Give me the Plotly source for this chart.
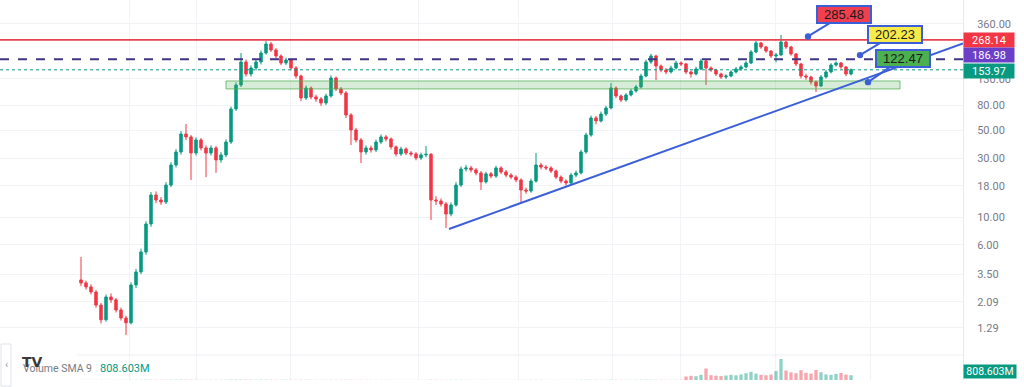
import math
import plotly.graph_objects as go

# ---------------- data ----------------
opens = [
    3.14, 2.97, 2.76, 2.51, 1.97, 1.50, 2.29, 2.17, 1.80, 1.55,
    1.42, 2.86, 3.64, 5.27, 8.85, 15.15, 13.8, 13.3, 18.2, 26.4,
    33.6, 46.9, 44.4, 33.0, 42.0, 36.2, 33.0, 36.2, 29.0, 31.8,
    40.4, 74.5, 116.2, 178.0, 142.5, 159.3, 178.0, 210.2, 248.5, 222.3,
    198.9, 174.7, 184.7, 159.3, 137.3, 91.4, 109.9, 93.1, 89.7, 83.3,
    94.8, 132.3, 107.9, 100.2, 66.7, 50.5, 42.0, 33.6, 36.2, 34.9,
    40.4, 44.4, 42.7, 36.9, 32.4, 35.5, 33.0, 32.4, 30.1, 31.8,
    32.2, 13.8, 13.56, 12.82, 10.65, 12.59, 18.2, 24.5, 25.0, 24.1,
    22.8, 19.3, 22.4, 21.5, 25.0, 23.2, 21.9, 21.1, 20.0, 16.6,
    16.3, 19.6, 26.4, 25.4, 25.0, 23.6, 21.1, 19.6, 18.9, 21.9,
    22.8, 33.6, 46.0, 63.1, 59.7, 67.9, 75.9, 109.9, 94.8, 88.0,
    96.6, 104.0, 112.0, 137.3, 178.0, 198.9, 165.2, 153.5, 147.9, 159.3,
    174.7, 171.5, 147.9, 142.5, 156.3, 181.3, 159.3, 153.5, 142.5, 134.8,
    137.3, 147.9, 156.3, 162.3, 174.7, 214.2, 253.1, 235.0, 218.2, 198.9,
    202.6, 257.8, 235.0, 206.5, 171.5, 137.3, 134.8, 122.9, 114.1, 134.8,
    147.9, 168.4, 174.7, 162.3, 142.5,
]
highs = [
    4.80, 3.10, 2.90, 2.60, 2.05, 2.40, 2.45, 2.25, 1.88, 1.62,
    3.00, 3.85, 5.60, 9.30, 16.0, 16.2, 14.6, 19.2, 27.8, 35.4,
    49.5, 56.4, 46.0, 44.0, 43.5, 38.0, 38.0, 37.5, 33.5, 42.5,
    78.0, 122.0, 210.2, 186.0, 167.0, 187.0, 220.0, 262.6, 258.0, 230.0,
    205.0, 193.0, 190.0, 165.0, 141.0, 115.0, 113.0, 97.0, 93.0, 99.0,
    139.0, 136.0, 112.0, 104.0, 69.0, 52.5, 43.5, 38.0, 37.8, 42.3,
    46.5, 46.0, 44.0, 38.0, 37.0, 36.6, 34.2, 33.5, 33.2, 37.5,
    33.0, 14.8, 14.2, 13.3, 13.2, 19.2, 25.7, 26.5, 26.0, 25.0,
    23.6, 23.3, 23.2, 26.0, 25.8, 24.0, 22.7, 21.8, 20.6, 17.4,
    20.5, 33.0, 27.5, 26.3, 25.8, 24.3, 21.8, 20.3, 22.8, 23.8,
    35.0, 48.0, 66.0, 65.5, 71.0, 79.0, 120.6, 113.0, 97.5, 100.0,
    108.0, 116.5, 143.0, 186.0, 207.0, 203.0, 170.0, 159.0, 166.0, 182.0,
    180.0, 175.0, 152.0, 163.0, 189.0, 185.0, 164.0, 157.0, 146.0, 142.0,
    153.0, 162.0, 168.0, 181.0, 222.0, 262.6, 258.0, 240.0, 222.0, 210.0,
    293.5, 262.0, 240.0, 210.0, 175.0, 143.0, 138.0, 126.0, 140.0, 153.0,
    174.0, 180.0, 178.0, 165.0, 158.0,
]
lows = [
    2.80, 2.62, 2.40, 1.88, 1.40, 1.45, 2.05, 1.72, 1.48, 1.13,
    1.38, 2.70, 3.50, 5.00, 8.40, 13.0, 12.6, 12.8, 17.5, 25.2,
    32.0, 42.0, 20.0, 31.5, 34.5, 21.1, 31.5, 22.8, 27.5, 30.5,
    39.0, 72.0, 112.0, 136.0, 136.0, 152.0, 170.0, 204.0, 214.0, 190.0,
    168.0, 168.0, 152.0, 131.0, 86.0, 88.0, 89.0, 85.0, 79.0, 80.0,
    92.0, 104.0, 96.0, 63.0, 38.2, 40.0, 27.4, 32.0, 33.2, 33.5,
    39.0, 40.8, 35.2, 31.0, 31.2, 31.7, 31.0, 28.8, 29.0, 30.5,
    9.53, 12.6, 12.2, 8.22, 10.2, 12.2, 17.6, 23.4, 23.0, 21.8,
    16.6, 18.7, 20.6, 20.8, 22.3, 21.0, 20.3, 19.2, 13.3, 15.5,
    15.8, 19.0, 24.3, 24.0, 22.7, 20.3, 18.8, 18.0, 18.4, 21.0,
    22.2, 32.5, 44.5, 56.0, 58.0, 65.5, 74.0, 91.0, 84.5, 85.5,
    94.0, 101.0, 109.0, 134.0, 172.0, 127.5, 147.0, 142.0, 144.0, 155.0,
    165.0, 142.0, 133.0, 139.0, 153.0, 116.2, 148.0, 137.0, 130.0, 130.0,
    134.0, 144.0, 151.0, 158.0, 171.0, 209.0, 227.0, 211.0, 192.0, 177.0,
    198.0, 227.0, 200.0, 165.0, 131.0, 128.0, 117.0, 102.1, 112.0, 131.0,
    144.0, 163.0, 157.0, 137.0, 139.0,
]
closes = [
    2.97, 2.76, 2.51, 1.97, 1.50, 2.29, 2.17, 1.80, 1.55, 1.42,
    2.86, 3.64, 5.27, 8.85, 15.15, 13.8, 13.3, 18.2, 26.4, 33.6,
    46.9, 44.4, 33.0, 42.0, 36.2, 33.0, 36.2, 29.0, 31.8, 40.4,
    74.5, 116.2, 178.0, 142.5, 159.3, 178.0, 210.2, 248.5, 222.3, 198.9,
    174.7, 184.7, 159.3, 137.3, 91.4, 109.9, 93.1, 89.7, 83.3, 94.8,
    132.3, 107.9, 100.2, 66.7, 50.5, 42.0, 33.6, 36.2, 34.9, 40.4,
    44.4, 42.7, 36.9, 32.4, 35.5, 33.0, 32.4, 30.1, 31.8, 32.2,
    13.8, 13.56, 12.82, 10.65, 12.59, 18.2, 24.5, 25.0, 24.1, 22.8,
    19.3, 22.4, 21.5, 25.0, 23.2, 21.9, 21.1, 20.0, 16.6, 16.3,
    19.6, 26.4, 25.4, 25.0, 23.6, 21.1, 19.6, 18.9, 21.9, 22.8,
    33.6, 46.0, 63.1, 59.7, 67.9, 75.9, 109.9, 94.8, 88.0, 96.6,
    104.0, 112.0, 137.3, 178.0, 198.9, 165.2, 153.5, 147.9, 159.3, 174.7,
    171.5, 147.9, 142.5, 156.3, 181.3, 159.3, 153.5, 142.5, 134.8, 137.3,
    147.9, 156.3, 162.3, 174.7, 214.2, 253.1, 235.0, 218.2, 198.9, 202.6,
    257.8, 235.0, 206.5, 171.5, 137.3, 134.8, 122.9, 114.1, 134.8, 147.9,
    168.4, 174.7, 162.3, 142.5, 153.97,
]
volume_m = [
    12, 9, 8, 11, 14, 10, 7, 9, 8, 13,
    18, 15, 20, 24, 30, 22, 18, 21, 26, 28,
    30, 25, 27, 20, 18, 17, 16, 15, 14, 19,
    32, 35, 40, 30, 26, 24, 28, 33, 27, 22,
    20, 21, 19, 18, 25, 22, 17, 15, 14, 16,
    23, 19, 15, 20, 24, 18, 21, 14, 12, 13,
    12, 11, 13, 10, 11, 10, 9, 10, 11, 12,
    30, 22, 18, 20, 16, 21, 19, 14, 12, 11,
    13, 10, 9, 11, 10, 9, 8, 9, 12, 11,
    14, 18, 13, 11, 10, 9, 10, 9, 11, 12,
    16, 20, 22, 19, 18, 17, 25, 20, 17, 16,
    15, 17, 21, 26, 24, 22, 18, 17, 16, 18,
    19, 350, 420, 380, 520, 1150, 480, 430, 390, 450,
    520, 470, 560, 680, 820, 640, 520, 470, 540, 900,
    2100, 950, 760, 680, 980, 720, 640, 1000, 780, 560,
    520, 610, 700, 540, 480,
]

tick_vals = [1.29, 2.09, 3.5, 6, 10, 18, 30, 50, 80, 130, 360]
tick_text = ["1.29", "2.09", "3.50", "6.00", "10.00", "18.00", "30.00",
             "50.00", "80.00", "130.00", "360.00"]

resistance = 268.14
mid_level = 186.98
last_price = 153.97
volume_sma = "808.603M"

# drawings (bar index, price)
trend_x = [73.6, 176.4]
trend_y = [8.07, 251.2]
zone_x = [29.0, 163.8]
zone_y = [108.0, 125.2]
callouts = [
    ("285.48", 145.4, 285.48, "#f0404f", 36, -22),
    ("202.23", 155.8, 202.23, "#f7ea4a", 35, -21),
    ("122.47", 157.4, 122.47, "#4caf50", 35, -24),
]
time_grid = [9.6, 23.0, 41.8, 67.4, 87.4, 106.2, 119.8, 138.8, 157.8]

# ---------------- figure ----------------
UP, DOWN = "#089981", "#f23645"
idx = list(range(len(closes)))
X_RANGE = [-16.2, 176.4]

fig = go.Figure()

# zone
fig.add_trace(go.Scatter(
    x=[zone_x[0], zone_x[1], zone_x[1], zone_x[0], zone_x[0]],
    y=[zone_y[0], zone_y[0], zone_y[1], zone_y[1], zone_y[0]],
    mode="lines", fill="toself", fillcolor="rgba(76,175,80,0.22)",
    line=dict(color="rgba(76,175,80,0.75)", width=1),
    hoverinfo="skip", showlegend=False, yaxis="y"))

# horizontal levels
fig.add_trace(go.Scatter(x=X_RANGE, y=[resistance, resistance], mode="lines",
                         line=dict(color="#e8414f", width=1.6),
                         hoverinfo="skip", showlegend=False))
fig.add_trace(go.Scatter(x=X_RANGE, y=[mid_level, mid_level], mode="lines",
                         line=dict(color="#3e3585", width=2, dash="9px,9px"),
                         hoverinfo="skip", showlegend=False))
fig.add_trace(go.Scatter(x=X_RANGE, y=[last_price, last_price], mode="lines",
                         line=dict(color=UP, width=1, dash="dot"),
                         hoverinfo="skip", showlegend=False))

# candles
fig.add_trace(go.Candlestick(
    x=idx, open=opens, high=highs, low=lows, close=closes,
    increasing=dict(line=dict(color=UP, width=1), fillcolor=UP),
    decreasing=dict(line=dict(color=DOWN, width=1), fillcolor=DOWN),
    whiskerwidth=0, showlegend=False, yaxis="y"))

# trend line
fig.add_trace(go.Scatter(x=trend_x, y=trend_y, mode="lines",
                         line=dict(color="#3b5fd9", width=2),
                         hoverinfo="skip", showlegend=False))

# volume
vol_colors = ["rgba(8,153,129,0.45)" if c >= o else "rgba(242,54,69,0.45)"
              for o, c in zip(opens, closes)]
fig.add_trace(go.Bar(x=idx, y=volume_m, marker=dict(color=vol_colors, line=dict(width=0)),
                     yaxis="y2", showlegend=False, hoverinfo="skip"))

PRICE_DOM = [0.0658, 1.0]
VOL_DOM = [0.0, 0.0658]

fig.update_layout(
    width=1024, height=387, autosize=False,
    margin=dict(l=0, r=61, t=0, b=7),
    paper_bgcolor="white", plot_bgcolor="white",
    font=dict(family="Roboto, Liberation Sans, sans-serif", color="#787b86"),
    bargap=0.35,
    xaxis=dict(range=X_RANGE, showticklabels=False, tickvals=time_grid,
               showgrid=True, gridcolor="#f2f3f6", zeroline=False, showline=False,
               rangeslider=dict(visible=False), anchor="y2", ticks=""),
    yaxis=dict(type="log", range=[-0.107, 2.749], domain=PRICE_DOM, side="right",
               tickvals=tick_vals, ticktext=tick_text, ticks="",
               tickfont=dict(size=11, color="#787b86"),
               ticklabelstandoff=11,
               showgrid=True, gridcolor="#f2f3f6", zeroline=False,
               showline=True, linecolor="#e6e8ee", linewidth=1),
    yaxis2=dict(range=[0, 2500], domain=VOL_DOM, side="right", showticklabels=False,
                showgrid=False, zeroline=False, showline=True, linecolor="#e6e8ee"),
)

# pane separator
fig.add_shape(type="line", xref="paper", yref="paper", x0=0.08, x1=1.0,
              y0=PRICE_DOM[0], y1=PRICE_DOM[0], line=dict(color="#eceef2", width=1))

# callouts
for text, cx, cy, bg, ax, ay in callouts:
    fig.add_annotation(x=cx, y=math.log10(cy), xref="x", yref="y", text=text,
                       showarrow=True, arrowhead=6, arrowsize=0.8, arrowwidth=2,
                       arrowcolor="#3b5fd9", ax=ax, ay=ay,
                       bgcolor=bg, bordercolor="#3b5fd9", borderwidth=2, borderpad=0,
                       width=52, height=15, valign="middle",
                       font=dict(size=13, color="#1b1b1b", family="Liberation Sans, Arial"))

# right-side price labels (shifted apart the way the price scale stacks them)
for val, bg, shift in [(resistance, "#f23645", 0), (mid_level, "#6b3fc8", 4), (last_price, UP, -1)]:
    fig.add_annotation(x=1.0, xref="paper", xanchor="left", y=math.log10(val), yref="y",
                       yanchor="middle", yshift=shift, text=f"{val:.2f}", showarrow=False,
                       bgcolor=bg, font=dict(size=11, color="white"),
                       borderpad=0, width=50, height=14, align="center", valign="middle")

fig.add_annotation(x=1.0, xref="paper", xanchor="left", y=808.603, yref="y2",
                   yanchor="middle", text=volume_sma, showarrow=False, bgcolor=UP,
                   font=dict(size=10.5, color="white"), borderpad=0, width=52, height=13,
                   align="center", valign="middle")

# legend-ish text of volume pane
fig.add_annotation(x=21 / 963, xref="paper", xanchor="left", y=(380 - 368) / 380, yref="paper",
                   yanchor="middle", text="Volume SMA 9", showarrow=False,
                   font=dict(size=10.5, color="#787b86"))
fig.add_annotation(x=98 / 963, xref="paper", xanchor="left", y=(380 - 368) / 380, yref="paper",
                   yanchor="middle", text=volume_sma, showarrow=False,
                   font=dict(size=11, color=UP))
fig.add_annotation(x=32 / 963, xref="paper", xanchor="center", y=(380 - 362) / 380, yref="paper",
                   yanchor="middle", text="<b>TV</b>", showarrow=False,
                   font=dict(size=14, color="#3a3a3a", family="DejaVu Sans"))
# collapse button
fig.add_shape(type="rect", xref="paper", yref="paper", x0=1 / 963, x1=11 / 963,
              y0=(380 - 386) / 380, y1=(380 - 344) / 380,
              line=dict(color="#e0e3eb", width=1), fillcolor="white")
fig.add_annotation(x=6 / 963, xref="paper", xanchor="center", y=(380 - 364) / 380, yref="paper",
                   yanchor="middle", text="‹", showarrow=False,
                   font=dict(size=11, color="#9598a1"))

fig.write_html("out.html")
